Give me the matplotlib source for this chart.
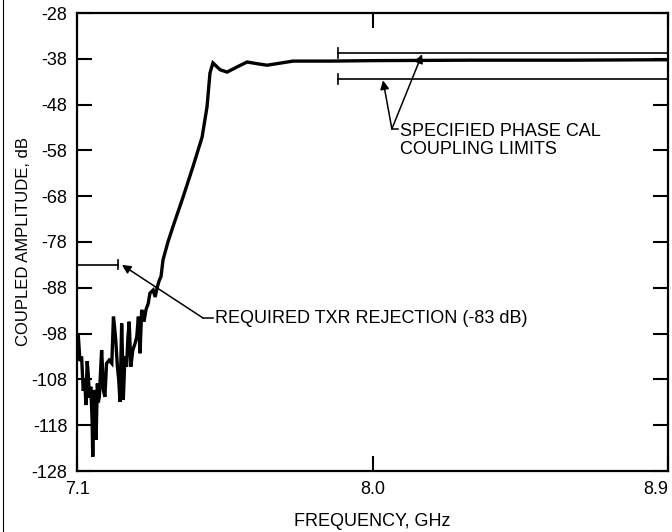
import matplotlib

matplotlib.use("Agg")
import matplotlib.pyplot as plt
from matplotlib.lines import Line2D

plt.rcParams["font.family"] = ["Liberation Sans", "DejaVu Sans"]

# ---- data -------------------------------------------------------------------
freq_ghz = [
    7.101, 7.104, 7.109, 7.114, 7.119, 7.124, 7.127, 7.131, 7.134, 7.138,
    7.142, 7.146, 7.148, 7.152, 7.155, 7.158, 7.162, 7.165, 7.168, 7.175,
    7.178, 7.180, 7.185, 7.190, 7.198, 7.206, 7.211, 7.215, 7.218, 7.223,
    7.227, 7.231, 7.236, 7.239, 7.241, 7.246, 7.251, 7.255, 7.259, 7.264,
    7.270, 7.277, 7.282, 7.287, 7.292, 7.297, 7.304, 7.310, 7.317, 7.322,
    7.332, 7.338, 7.344, 7.350, 7.356, 7.362, 7.377, 7.392, 7.423, 7.453,
    7.481, 7.496, 7.505, 7.514, 7.536, 7.557, 7.587, 7.618, 7.651, 7.679,
    7.758, 7.871, 8.0, 8.3, 8.6, 8.9,
]
amp_db = [
    -98.3, -98.5, -104.0, -103.0, -110.5, -108.1, -113.6, -104.0, -106.7, -112.0,
    -109.6, -117.0, -124.9, -110.3, -116.0, -121.2, -108.9, -113.0, -111.8, -101.6,
    -106.0, -110.3, -111.8, -104.5, -103.8, -104.5, -94.3, -97.0, -99.4, -105.2,
    -108.0, -112.9, -95.8, -104.0, -112.5, -103.0, -105.2, -99.0, -95.4, -105.2,
    -101.6, -100.1, -98.7, -94.3, -102.3, -92.8, -95.4, -92.8, -91.4, -89.2,
    -88.5, -90.0, -88.0, -86.5, -85.5, -81.9, -78.0, -74.7, -68.2, -61.6,
    -55.1, -48.5, -41.1, -38.9, -40.4, -40.9, -39.8, -38.7, -39.1, -39.4,
    -38.5, -38.5, -38.4, -38.3, -38.3, -38.2,
]

rejection_db = -83.0
rejection_end_ghz = 7.225
limit_upper_db = -36.7
limit_lower_db = -42.5
limit_start_ghz = 7.895

yticks = [-128, -118, -108, -98, -88, -78, -68, -58, -48, -38, -28]
xticks = [7.1, 8.0, 8.9]

# ---- figure -------------------------------------------------------------------
fig = plt.figure(figsize=(6.72, 5.32), dpi=100)
ax = fig.add_axes([77 / 672, 1 - 471 / 532, 591 / 672, 458 / 532])

ax.plot(freq_ghz, amp_db, color="black", lw=2.4, solid_joinstyle="miter")

# required rejection marker
ax.plot([7.1, rejection_end_ghz], [rejection_db, rejection_db], color="black", lw=1.2)
ax.plot([rejection_end_ghz] * 2, [rejection_db - 1.0, rejection_db + 1.0], color="black", lw=1.2)

# phase cal coupling limits
for lim in (limit_upper_db, limit_lower_db):
    ax.plot([limit_start_ghz, 8.9], [lim, lim], color="black", lw=1.2)
    ax.plot([limit_start_ghz] * 2, [lim - 1.1, lim + 1.1], color="black", lw=1.2)

arrow = dict(arrowstyle="-|>", color="black", lw=1.1, mutation_scale=13, shrinkA=0, shrinkB=0)

# rejection annotation
ax.plot([7.484, 7.514], [-94.6, -94.6], color="black", lw=1.1)
ax.annotate("", xy=(7.237, -83.0), xytext=(7.484, -94.6), arrowprops=arrow)
ax.text(7.520, -94.6, "REQUIRED TXR REJECTION (-83 dB)", fontsize=13, ha="left", va="center")

# limits annotation
ax.plot([8.059, 8.078], [-53.3, -53.3], color="black", lw=1.1)
ax.annotate("", xy=(8.151, -37.0), xytext=(8.059, -53.3), arrowprops=arrow)
ax.annotate("", xy=(8.032, -42.7), xytext=(8.059, -53.3), arrowprops=arrow)
ax.text(8.084, -55.9, "SPECIFIED PHASE CAL\nCOUPLING LIMITS", fontsize=13,
        ha="left", va="center", linespacing=1.1)

ax.set_xlim(7.1, 8.9)
ax.set_ylim(-128, -28)
ax.set_xticks(xticks)
ax.set_xticklabels(["7.1", "8.0", "8.9"])
ax.set_yticks(yticks)
ax.set_yticklabels([str(t) for t in yticks])
ax.tick_params(axis="both", direction="in", length=11, width=1.5, labelsize=13,
               right=True, top=True, pad=7)
ax.get_xticklabels()[-1].set_horizontalalignment("right")
for s in ax.spines.values():
    s.set_linewidth(1.6)

ax.set_xlabel("FREQUENCY, GHz", fontsize=13, labelpad=11)
ax.set_ylabel("COUPLED AMPLITUDE, dB", fontsize=12, labelpad=0)

# scan edge line on the far left
fig.add_artist(Line2D([3 / 672, 3 / 672], [0, 1], color="black", lw=0.8))

fig.savefig("out.png", dpi=100)
